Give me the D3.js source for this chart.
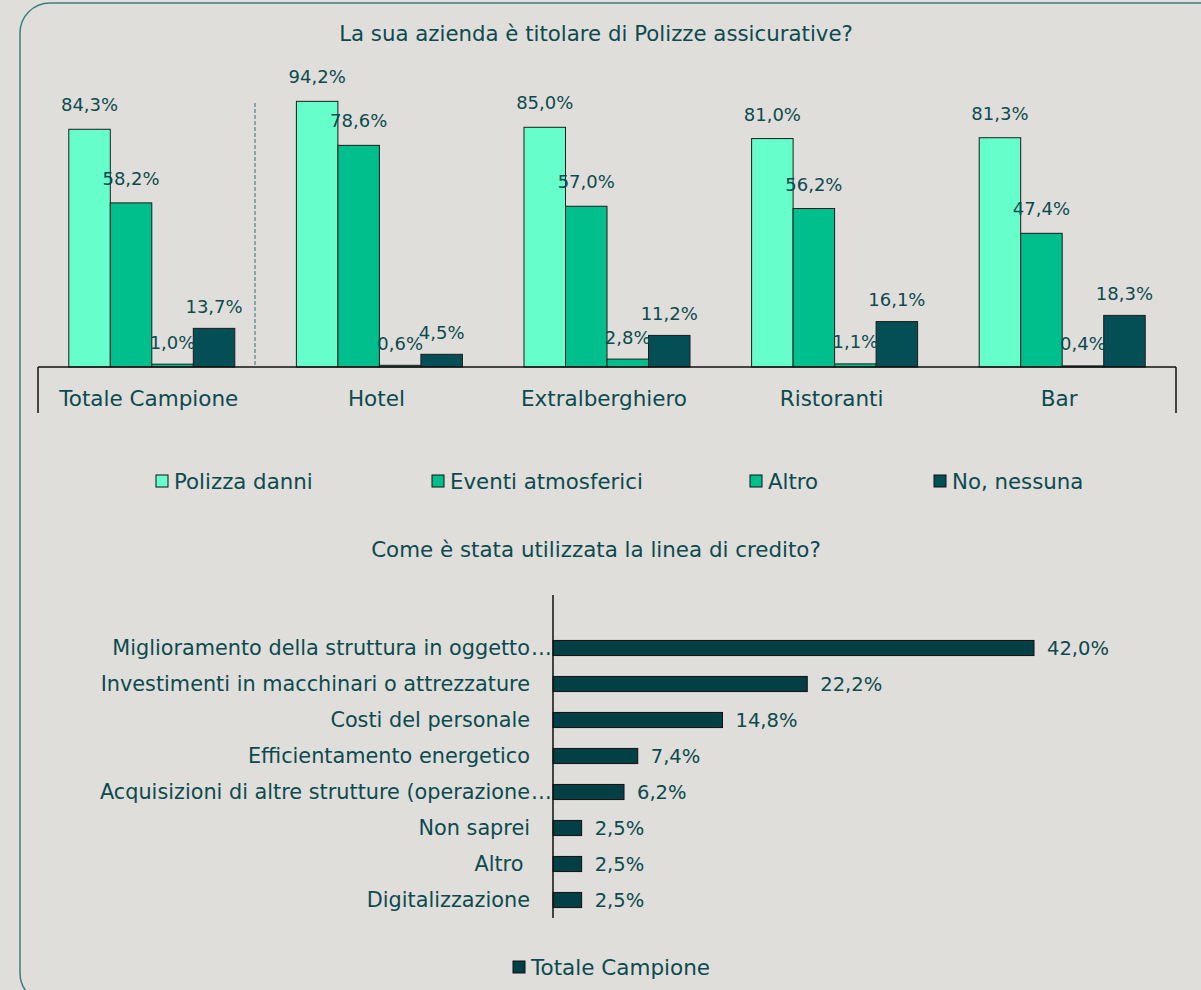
<!DOCTYPE html>
<html>
<head>
<meta charset="utf-8">
<script src="https://cdn.jsdelivr.net/npm/d3@7"></script>
<style>
  body { margin: 0; background: #dfdeda; }
  svg { display: block; font-family: "DejaVu Sans", sans-serif; }
</style>
</head>
<body>
<div id="chart"></div>
<script>
// top chart: polizze
const categories = ['Totale Campione', 'Hotel', 'Extralberghiero', 'Ristoranti', 'Bar'];
const seriesNames = ['Polizza danni', 'Eventi atmosferici', 'Altro', 'No, nessuna'];
const polizzaDanni = [84.3, 94.2, 85.0, 81.0, 81.3];
const eventiAtmosferici = [58.2, 78.6, 57.0, 56.2, 47.4];
const altro = [1.0, 0.6, 2.8, 1.1, 0.4];
const noNessuna = [13.7, 4.5, 11.2, 16.1, 18.3];
const seriesColors = ['#66ffcc', '#00bf8c', '#00bf8c', '#034f55'];

// bottom chart: linea di credito
const usi = [
  'Miglioramento della struttura in oggetto…',
  'Investimenti in macchinari o attrezzature',
  'Costi del personale',
  'Efficientamento energetico',
  'Acquisizioni di altre strutture (operazione…',
  'Non saprei',
  'Altro ',
  'Digitalizzazione'
];
const usiValues = [42.0, 22.2, 14.8, 7.4, 6.2, 2.5, 2.5, 2.5];

const W = 1201, H = 990;
const textColor = '#0d4a4f';
const fmt = v => v.toFixed(1).replace('.', ',') + '%';

const svg = d3.select('#chart').append('svg').attr('width', W).attr('height', H);

svg.append('rect')
  .attr('x', 20).attr('y', 3)
  .attr('width', 1240).attr('height', 1000)
  .attr('rx', 30)
  .attr('fill', '#dfdeda')
  .attr('stroke', '#3f7d82').attr('stroke-width', 1.5);

// ---- top chart
svg.append('text')
  .attr('x', 596).attr('y', 41)
  .attr('text-anchor', 'middle')
  .attr('fill', textColor).attr('font-size', 21.3)
  .text('La sua azienda è titolare di Polizze assicurative?');

const x0 = d3.scaleBand().domain(categories).range([38, 1176]);
const x1 = d3.scaleBand().domain(seriesNames).range([30.8, x0.bandwidth() - 30.8]);
const y = d3.scaleLinear().domain([0, 100]).range([367, 85]);

const rows = categories.map((c, i) => ({
  cat: c,
  vals: [polizzaDanni[i], eventiAtmosferici[i], altro[i], noNessuna[i]]
}));

const groups = svg.append('g').selectAll('g')
  .data(rows).join('g')
  .attr('transform', d => `translate(${x0(d.cat)},0)`);

groups.selectAll('rect')
  .data(d => d.vals.map((v, j) => ({ v, s: seriesNames[j], j })))
  .join('rect')
  .attr('x', d => x1(d.s))
  .attr('y', d => y(d.v))
  .attr('width', x1.bandwidth())
  .attr('height', d => y(0) - y(d.v))
  .attr('fill', d => seriesColors[d.j])
  .attr('stroke', '#1c1c1c').attr('stroke-width', 1);

groups.selectAll('text.val')
  .data(d => d.vals.map((v, j) => ({ v, s: seriesNames[j], j })))
  .join('text')
  .attr('class', 'val')
  .attr('x', d => x1(d.s) + x1.bandwidth() / 2)
  .attr('y', d => y(d.v) - (d.v < 30 ? 15.5 : 18))
  .attr('text-anchor', 'middle')
  .attr('fill', textColor).attr('font-size', 18)
  .text(d => fmt(d.v));

// axis
const axis = svg.append('g').attr('stroke', '#111').attr('stroke-width', 1.5);
axis.append('line').attr('x1', 38).attr('x2', 1176).attr('y1', y(0)).attr('y2', y(0));
axis.append('line').attr('x1', 38).attr('x2', 38).attr('y1', y(0)).attr('y2', 413);
axis.append('line').attr('x1', 1176).attr('x2', 1176).attr('y1', y(0)).attr('y2', 413);

svg.append('line')
  .attr('x1', 255).attr('x2', 255).attr('y1', 103).attr('y2', y(0))
  .attr('stroke', '#2f6f78').attr('stroke-width', 1)
  .attr('stroke-dasharray', '4,2');

svg.append('g').selectAll('text')
  .data(categories).join('text')
  .attr('x', d => x0(d) + x0.bandwidth() / 2 - 3)
  .attr('y', 406)
  .attr('text-anchor', 'middle')
  .attr('fill', textColor).attr('font-size', 21.5)
  .text(d => d);

// legend top
const legendX = [156, 432, 750, 934];
const lg = svg.append('g').selectAll('g')
  .data(seriesNames).join('g')
  .attr('transform', (d, i) => `translate(${legendX[i]},475)`);
lg.append('rect').attr('width', 12).attr('height', 12)
  .attr('fill', (d, i) => seriesColors[i])
  .attr('stroke', '#111').attr('stroke-width', 1);
lg.append('text').attr('x', 18).attr('y', 13.5)
  .attr('fill', textColor).attr('font-size', 21.3)
  .text(d => d);

// ---- bottom chart
svg.append('text')
  .attr('x', 596).attr('y', 557)
  .attr('text-anchor', 'middle')
  .attr('fill', textColor).attr('font-size', 21.4)
  .text('Come è stata utilizzata la linea di credito?');

const yb = d3.scaleBand().domain(usi).range([630, 918]).paddingInner(0.58).paddingOuter(0.29);
const xb = d3.scaleLinear().domain([0, 42]).range([553, 1034]);

svg.append('g').selectAll('rect')
  .data(usi).join('rect')
  .attr('x', xb(0))
  .attr('y', d => yb(d))
  .attr('width', (d, i) => xb(usiValues[i]) - xb(0))
  .attr('height', yb.bandwidth())
  .attr('fill', '#034045')
  .attr('stroke', '#111').attr('stroke-width', 1);

svg.append('line')
  .attr('x1', 553).attr('x2', 553).attr('y1', 595).attr('y2', 918)
  .attr('stroke', '#111').attr('stroke-width', 1.5);

// category labels; the truncation dots hang past the label margin, as in the original
const catLabels = svg.append('g').selectAll('g')
  .data(usi).join('g')
  .attr('transform', d => `translate(0,${yb(d) + yb.bandwidth() / 2 + 7})`);
catLabels.append('text')
  .attr('x', 530)
  .attr('text-anchor', 'end')
  .style('white-space', 'pre')
  .attr('fill', textColor).attr('font-size', 20.8)
  .text(d => d.replace('…', ''));
catLabels.filter(d => d.endsWith('…')).append('text')
  .attr('x', 531)
  .attr('fill', textColor).attr('font-size', 20.8)
  .text('…');

svg.append('g').selectAll('text')
  .data(usi).join('text')
  .attr('x', (d, i) => xb(usiValues[i]) + 13)
  .attr('y', d => yb(d) + yb.bandwidth() / 2 + 7)
  .attr('fill', textColor).attr('font-size', 19.5)
  .text((d, i) => fmt(usiValues[i]));

// legend bottom
const lb = svg.append('g').attr('transform', 'translate(513,961)');
lb.append('rect').attr('width', 12).attr('height', 12)
  .attr('fill', '#034045').attr('stroke', '#111');
lb.append('text').attr('x', 18).attr('y', 13.5)
  .attr('fill', textColor).attr('font-size', 21.5)
  .text('Totale Campione');
</script>
</body>
</html>
